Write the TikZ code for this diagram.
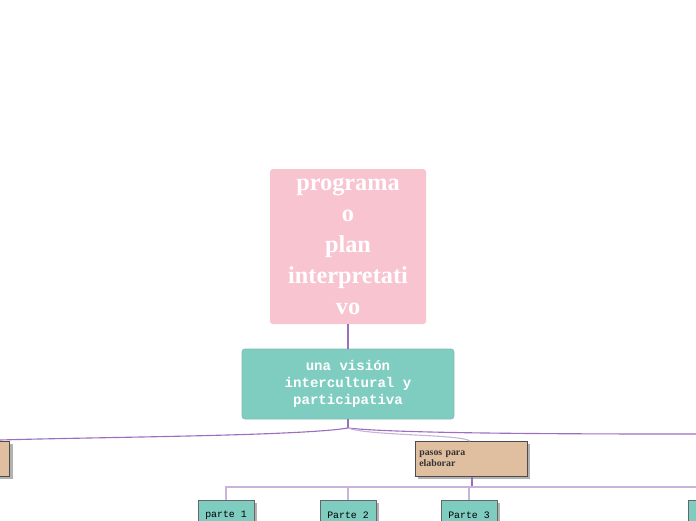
\documentclass[tikz,border=0pt]{standalone}
\usepackage{fontspec}
\setmainfont{Liberation Serif}
\setmonofont{Liberation Mono}
\definecolor{pinkbox}{HTML}{F8C4D0}
\definecolor{tealbox}{HTML}{7ECDC0}
\definecolor{tanbox}{HTML}{E0BFA0}
\definecolor{linkline}{HTML}{9B6FBF}
\definecolor{lightlink}{HTML}{C9B3DD}
\tikzset{
  mainbox/.style={fill=pinkbox, rounded corners=2pt, text=white, font=\bfseries\LARGE, align=center, inner sep=0pt},
  subbox/.style={fill=tealbox, draw=tealbox!80!gray, rounded corners=2pt, text=white, font=\ttfamily\bfseries, align=center, inner sep=0pt},
  stepbox/.style={fill=tanbox, draw=black!70, inner sep=2pt, align=left, font=\scriptsize\bfseries, text=black!80,
    drop shadow={fill=black!60, shadow xshift=2pt, shadow yshift=-2pt}},
  partbox/.style={fill=tealbox, draw=black!60, font=\ttfamily\scriptsize, inner sep=0pt,
    drop shadow={fill=black!60, shadow xshift=2pt, shadow yshift=-2pt}},
  link/.style={linkline, line width=0.8pt},
  thinlink/.style={lightlink, line width=0.8pt}
}
\usetikzlibrary{shadows}
\begin{document}
\begin{tikzpicture}[x=0.025cm, y=-0.025cm]
  \useasboundingbox (0,0) rectangle (696,520);
  \begin{scope}
  \clip (0,0) rectangle (696,520);
  % central topic and first child
  \node[mainbox, minimum width=156*0.025cm, minimum height=155*0.025cm] (plan) at (348,246.5)
    {programa\\o\\plan\\interpretati\\vo};
  \node[subbox, minimum width=212*0.025cm, minimum height=70*0.025cm] (vision) at (348,384)
    {una visión\\intercultural y\\participativa};
  \draw[link] (plan.south) -- (vision.north);

  % second level
  \node[stepbox, minimum width=112*0.025cm, minimum height=35*0.025cm, text width=104*0.025cm,
    anchor=north west] (pasos) at (415,441) {pasos para\\elaborar};
  \node[stepbox, minimum width=60*0.025cm, minimum height=35*0.025cm, anchor=north east] (left) at (10,441) {};
  \coordinate (rightend) at (700,434);
  \coordinate (hub) at (348,428);
  \draw[link] (vision.south) -- (hub);
  \draw[link] (hub) .. controls (300,436) and (100,437) .. (0,440);
  \draw[link] (hub) .. controls (400,434) and (600,434) .. (rightend);
  \draw[thinlink] (hub) .. controls (370,436) and (460,434) .. (470,441);

  % third level
  \foreach \name/\x/\label in {p1/226/parte 1, p2/348/Parte 2, p3/469/Parte 3, p4/716/{}}
    \node[partbox, minimum width=56*0.025cm, minimum height=30*0.025cm, anchor=north] (\name) at (\x,500) {\label};
  \coordinate (split) at (472,487);
  \draw[link] (pasos.south -| split) -- (split);
  \draw[thinlink] (p1.north) |- (split) -- (700,487);
  \draw[thinlink] (p2.north) -- (p2.north |- split);
  \draw[thinlink] (p3.north) -- (p3.north |- split);
  \end{scope}
\end{tikzpicture}
\end{document}
